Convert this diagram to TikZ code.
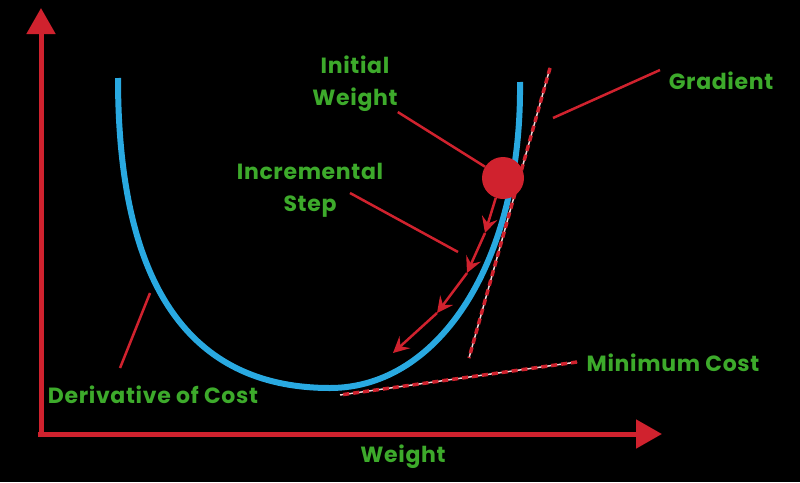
\documentclass[tikz,border=0pt]{standalone}
\usepackage{fontspec}
\setmainfont{Poppins}[LetterSpace=3]
\usetikzlibrary{arrows.meta}
\definecolor{cred}{HTML}{D0222E}
\definecolor{cblue}{HTML}{29A9E1}
\definecolor{cgreen}{HTML}{3DAA2B}
\tikzset{
  lbl/.style={text=cgreen, font=\fontsize{22}{32}\selectfont\bfseries, inner sep=0pt, align=center},
  axisline/.style={draw=cred, line width=5pt, -{Triangle[length=26pt,width=28pt]}},
  pointer/.style={draw=cred, line width=2.5pt},
  tangentline/.style={preaction={draw=white!80!cred, line width=1.5pt}, draw=cred, line width=3.5pt, dash pattern=on 6pt off 4pt},
  stepline/.style={draw=cred, line width=2.5pt, -{Stealth[length=16pt,width=16pt,inset=6pt]}},
  costcurve/.style={draw=cblue, line width=6pt},
}
\begin{document}
\begin{tikzpicture}[x=1pt,y=-1pt]
\fill[black] (0,0) rectangle (800,482);
\useasboundingbox (0,0) rectangle (800,482);
% axes
\coordinate (ybase) at (41,437);
\coordinate (ytop) at (41,8);
\coordinate (xbase) at (38,434);
\coordinate (xend) at (662,434);
\draw[axisline] (ybase) -- (ytop);
\draw[axisline] (xbase) -- (xend);
% cost curve
\coordinate (cl) at (118,78);
\coordinate (cmin) at (330,388);
\coordinate (cr) at (520,82);
\draw[costcurve] (cl) .. controls (118,300) and (200,388) .. (cmin) .. controls (440,388) and (522,260) .. (cr);
% tangent
\coordinate (tg1) at (550,68);
\coordinate (tg2) at (469,358);
\draw[tangentline] (tg1) -- (tg2);
% initial weight
\node[circle, fill=cred, minimum size=42pt, inner sep=0pt] (w0) at (503,178) {};
% steps
\coordinate (s1) at (485,233);
\coordinate (s2) at (467,273);
\coordinate (s3) at (437,313);
\coordinate (s4) at (393,353);
\draw[stepline] (w0.-110) -- (s1);
\draw[stepline] (s1) -- (s2);
\draw[stepline] (s2) -- (s3);
\draw[stepline] (s3) -- (s4);
% labels
\node[lbl] (iw) at (355,84) {Initial\\Weight};
\node[lbl] (is) at (310,190) {Incremental\\Step};
\node[lbl] (gr) at (721,81) {Gradient};
\node[lbl] (mc) at (673,363) {Minimum Cost};
\node[lbl] (dc) at (153,395) {Derivative of Cost};
\node[lbl] (wt) at (403,457) {Weight};
% pointers
\coordinate (grp) at (553,118);
\coordinate (grs) at (660,70);
\draw[pointer] (grs) -- (grp);
\draw[pointer] (iw.south east) -- (w0);
\coordinate (iss) at (350,193);
\coordinate (isp) at (458,252);
\draw[pointer] (iss) -- (isp);
\coordinate (dcs) at (120,368);
\coordinate (dcp) at (150,293);
\draw[pointer] (dcs) -- (dcp);
\coordinate (mcs) at (577,362);
\coordinate (mcp) at (340,395);
\draw[tangentline] (mcs) -- (mcp);
\end{tikzpicture}
\end{document}
